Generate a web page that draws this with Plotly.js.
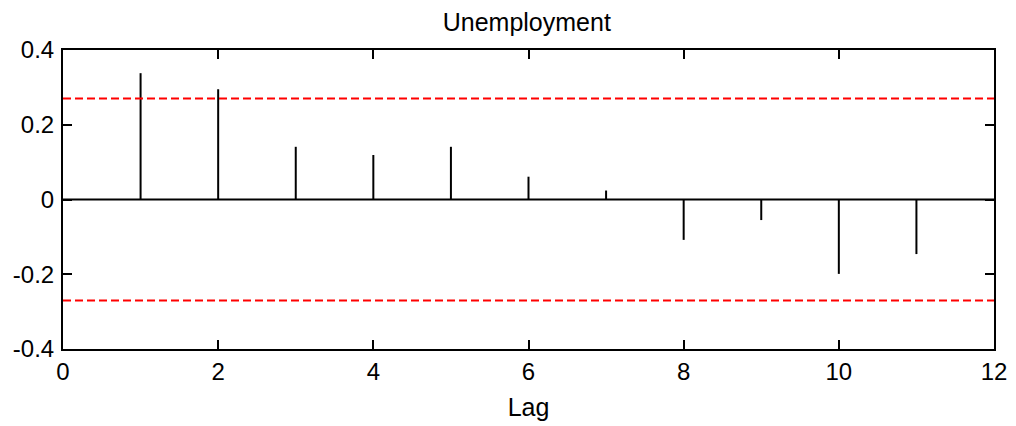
<!DOCTYPE html>
<html>
<head>
<meta charset="utf-8">
<script src="https://cdn.plot.ly/plotly-3.0.1.min.js"></script>
<style>html,body{margin:0;padding:0;background:#fff;}#chart{width:1016px;height:426px;}</style>
</head>
<body>
<div id="chart"></div>
<script>
const lags = [1, 2, 3, 4, 5, 6, 7, 8, 9, 10, 11];
const pacf = [0.338, 0.295, 0.141, 0.119, 0.141, 0.061, 0.024, -0.108, -0.055, -0.199, -0.146];
const bound = 0.27;
const xRange = [0, 12];
const yTicks = [-0.4, -0.2, 0, 0.2, 0.4];
const yTickText = ['-0.4', '-0.2', '0', '0.2', '0.4'];

const stemX = [], stemY = [];
lags.forEach((l, i) => { stemX.push(l, l, null); stemY.push(0, pacf[i], null); });

const FONT = '"Liberation Sans", Arial, Helvetica, sans-serif';

const traces = [
  {x: xRange, y: [0, 0], mode: 'lines', line: {color: '#000', width: 2}, hoverinfo: 'skip'},
  {x: stemX, y: stemY, mode: 'lines', line: {color: '#000', width: 2}, connectgaps: false},
  {x: xRange, y: [bound, bound], mode: 'lines', line: {color: '#ff0000', width: 2, dash: '8px,4px'}},
  {x: xRange, y: [-bound, -bound], mode: 'lines', line: {color: '#ff0000', width: 2, dash: '8px,4px'}}
];

const layout = {
  width: 1016, height: 426,
  margin: {l: 63, r: 22, t: 50, b: 77},
  paper_bgcolor: '#fff', plot_bgcolor: '#fff',
  showlegend: false,
  font: {family: FONT, color: '#000', size: 24},
  title: {text: 'Unemployment', font: {family: FONT, size: 25, color: '#000'},
          x: 0.5185, xanchor: 'center', y: 1 - 22/426, yanchor: 'middle', yref: 'container'},
  xaxis: {range: xRange, dtick: 2, tick0: 0, ticks: 'inside', ticklen: 9, tickwidth: 2, tickcolor: '#000',
          showline: true, linecolor: '#000', linewidth: 2, mirror: 'ticks', showgrid: false, zeroline: false,
          title: {text: 'Lag', font: {family: FONT, size: 25}, standoff: 15},
          tickfont: {family: FONT, size: 24}},
  yaxis: {range: [-0.4, 0.4], tickvals: yTicks, ticktext: yTickText, ticks: 'inside', ticklen: 9, tickwidth: 2, tickcolor: '#000',
          showline: true, linecolor: '#000', linewidth: 2, mirror: 'ticks', showgrid: false, zeroline: false,
          ticklabelstandoff: 2,
          tickfont: {family: FONT, size: 24}}
};

Plotly.newPlot('chart', traces, layout, {staticPlot: true, displayModeBar: false});
</script>
</body>
</html>
